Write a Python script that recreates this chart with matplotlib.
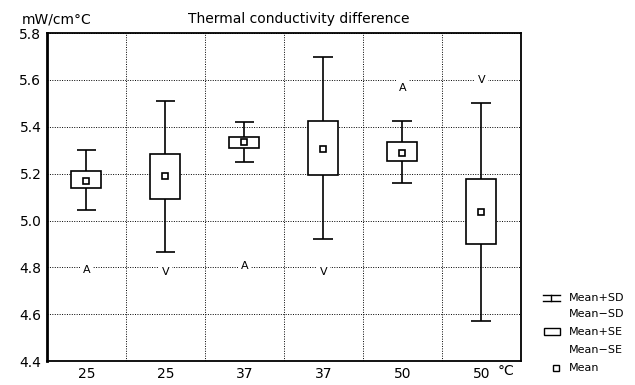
import numpy as np
import matplotlib.pyplot as plt
from matplotlib.patches import Rectangle

# temperature groups (degC) and summary statistics
labels = ['25', '25', '37', '37', '50', '50']
mean = [5.17, 5.19, 5.335, 5.305, 5.29, 5.035]
se_hi = [5.21, 5.285, 5.357, 5.427, 5.335, 5.176]
se_lo = [5.137, 5.09, 5.31, 5.194, 5.255, 4.90]
sd_hi = [5.30, 5.51, 5.42, 5.696, 5.427, 5.50]
sd_lo = [5.047, 4.864, 5.248, 4.921, 5.16, 4.571]
marks = ['A', 'V', 'A', 'V', 'A', 'V']
mark_y = [4.79, 4.78, 4.805, 4.78, 5.567, 5.60]

x = np.arange(len(labels))
fs = 10

fig = plt.figure(figsize=(6.35, 3.85), dpi=100)
ax = fig.add_axes([0.074, 0.062, 0.746, 0.852])

# boxes (mean +/- SE)
ax.bar(x, np.array(se_hi) - np.array(se_lo), bottom=se_lo, width=0.38,
       color='white', edgecolor='black', linewidth=1.2, zorder=3)
# whiskers (mean +/- SD)
ax.vlines(x, se_hi, sd_hi, color='black', linewidth=1.2, zorder=3)
ax.vlines(x, sd_lo, se_lo, color='black', linewidth=1.2, zorder=3)
ax.hlines(sd_hi, x - 0.125, x + 0.125, color='black', linewidth=1.2, zorder=3)
ax.hlines(sd_lo, x - 0.125, x + 0.125, color='black', linewidth=1.2, zorder=3)
# mean
ax.plot(x, mean, 's', ms=4.5, mfc='white', mec='black', mew=1.2, zorder=4)

for xi, m, my in zip(x, marks, mark_y):
    ax.text(xi, my, m, ha='center', va='center', fontsize=8, zorder=2,
            bbox=dict(facecolor='white', edgecolor='none', pad=2))

ax.set_xlim(-0.5, len(labels) - 0.5)
ax.set_ylim(4.4, 5.8)
ax.set_xticks(x)
ax.set_xticklabels(labels, fontsize=fs)
ax.set_xticks(x[:-1] + 0.5, minor=True)
ax.set_yticks(np.arange(4.4, 5.81, 0.2))
ax.set_yticklabels(['%.1f' % v for v in np.arange(4.4, 5.81, 0.2)], fontsize=fs)
ax.tick_params(which='both', length=0, pad=4)
ax.grid(True, which='minor', axis='x', color='black', linestyle=(0, (1, 1.5)), linewidth=0.7)
ax.grid(True, which='major', axis='y', color='black', linestyle=(0, (1, 1.5)), linewidth=0.7)
ax.grid(False, which='major', axis='x')
for s in ax.spines.values():
    s.set_linewidth(1.3)
ax.spines['left'].set_linewidth(2)

fig.text(0.035, 0.95, 'mW/cm\u00b0C', fontsize=fs, va='center', ha='left')
fig.text(0.471, 0.95, 'Thermal conductivity difference', fontsize=10, va='center', ha='center')
ax.text(0.97, -0.008, '\u00b0C', transform=ax.transAxes, fontsize=fs, ha='center', va='top')

# legend drawn by hand in figure coordinates
lg = fig.add_axes([0.84, 0.0, 0.16, 0.30])
lg.set_xlim(0, 10)
lg.set_ylim(0, 10)
lg.axis('off')
rows = [7.53, 6.15, 4.59, 3.03, 1.47]
names = ['Mean+SD', 'Mean\u2212SD', 'Mean+SE', 'Mean\u2212SE', 'Mean']
for r, n in zip(rows, names):
    lg.text(3.45, r, n, fontsize=8, va='center', ha='left')
# SD symbol
lg.plot([0.9, 2.6], [7.8, 7.8], color='black', lw=1)
lg.plot([0.9, 2.6], [7.3, 7.3], color='black', lw=1)
lg.plot([1.75, 1.75], [7.3, 7.8], color='black', lw=1)
# SE symbol
lg.add_patch(Rectangle((1.0, 4.3), 1.6, 0.6, facecolor='white', edgecolor='black', lw=1))
# mean symbol
lg.plot([2.2], [1.47], 's', ms=4, mfc='white', mec='black', mew=1)

fig.savefig('out.png', dpi=100)
